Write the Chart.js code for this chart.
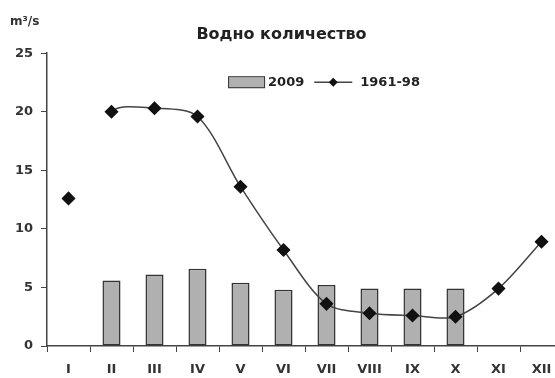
<!DOCTYPE html>
<html>
<head>
<meta charset="utf-8">
<script src="https://cdn.jsdelivr.net/npm/chart.js@4.4.1/dist/chart.umd.min.js"></script>
<style>
    html, body { margin: 0; padding: 0; background: #fff; overflow: hidden; }
</style>
</head>
<body>
<div id="chartBox"><canvas id="chart" width="580" height="378"></canvas></div>
<script>
(function () {

    'use strict';

    // monthly discharge, m3/s
    const months = ['I', 'II', 'III', 'IV', 'V', 'VI', 'VII', 'VIII', 'IX', 'X', 'XI', 'XII'];
    const flow2009 = [null, 5.6, 6.1, 6.6, 5.4, 4.8, 5.2, 4.9, 4.9, 4.9, null, null];
    const flowAvg = [12.6, 20.0, 20.3, 19.6, 13.6, 8.2, 3.6, 2.8, 2.6, 2.5, 4.9, 8.9];
    const yTicks = [0, 5, 10, 15, 20, 25];

    const chartTitle = 'Водно количество';
    const unitLabel = 'm³/s';
    const seriesNames = ['2009', '1961-98'];

    const font = '"DejaVu Sans", Verdana, sans-serif';
    const ink = '#333';
    const barFill = '#b0b0b0';
    const barEdge = '#333';
    const lineInk = '#444';

    window.addEventListener('load', init);

    function init() {
        Chart.defaults.font.family = font;
        Chart.defaults.font.weight = 'bold';
        Chart.defaults.color = ink;
        displayChart();
    }

    // legend is drawn by hand so both entries sit on one row inside the plot
    function drawLegend(chart) {
        let ctx = chart.ctx;
        let area = chart.chartArea;
        ctx.save();
        ctx.font = 'bold 13px ' + font;
        let w1 = ctx.measureText(seriesNames[0]).width;
        let w2 = ctx.measureText(seriesNames[1]).width;
        let total = 37 + 3 + w1 + 10 + 38 + 8 + w2;
        let x = (area.left + area.right) / 2 + 19 - total / 2;
        let y = area.top + 29;

        ctx.fillStyle = barFill;
        ctx.fillRect(x, y - 5, 37, 11);
        ctx.strokeStyle = barEdge;
        ctx.lineWidth = 1;
        ctx.strokeRect(x + 0.5, y - 5.5, 36, 11);
        x += 40;
        ctx.fillStyle = '#222';
        ctx.textBaseline = 'middle';
        ctx.fillText(seriesNames[0], x, y);
        x += w1 + 10;

        ctx.strokeStyle = lineInk;
        ctx.lineWidth = 1.5;
        ctx.beginPath();
        ctx.moveTo(x, y);
        ctx.lineTo(x + 38, y);
        ctx.stroke();
        ctx.fillStyle = '#111';
        ctx.beginPath();
        ctx.moveTo(x + 19, y - 4.5);
        ctx.lineTo(x + 23.5, y);
        ctx.lineTo(x + 19, y + 4.5);
        ctx.lineTo(x + 14.5, y);
        ctx.closePath();
        ctx.fill();
        x += 46;
        ctx.fillStyle = '#222';
        ctx.fillText(seriesNames[1], x, y);
        ctx.restore();
    }

    const extras = {
        id: 'extras',
        afterDraw(chart) {
            let ctx = chart.ctx;
            ctx.save();
            ctx.font = 'bold 12px ' + font;
            ctx.fillStyle = ink;
            ctx.textBaseline = 'middle';
            ctx.fillText(unitLabel, 10, chart.chartArea.top - 31);
            ctx.restore();
            drawLegend(chart);
        }
    };

    function displayChart() {

        let values = {
            labels: months,
            datasets: [{
                type: 'bar',
                label: seriesNames[0],
                data: flow2009,
                backgroundColor: barFill,
                borderColor: barEdge,
                borderWidth: 1.5,
                borderSkipped: false,
                categoryPercentage: 1,
                barPercentage: 0.42,
                order: 2
            }, {
                type: 'line',
                label: seriesNames[1],
                data: flowAvg,
                borderColor: lineInk,
                borderWidth: 1.5,
                tension: 0.3,
                pointStyle: 'rectRot',
                pointRadius: 6,
                pointBackgroundColor: '#111',
                pointBorderColor: '#111',
                segment: {
                    // January stands on its own
                    borderColor: ctx => ctx.p0DataIndex === 0 ? 'rgba(0,0,0,0)' : lineInk
                },
                order: 1
            }]
        };

        let config = {
            type: 'bar',
            data: values,
            plugins: [extras],
            options: {
                responsive: false,
                animation: false,
                devicePixelRatio: 1,
                layout: { padding: { left: 0, right: 17, top: 0, bottom: 0 } },
                plugins: {
                    title: {
                        display: true,
                        text: chartTitle,
                        color: '#222',
                        font: { size: 16, weight: 'bold' },
                        padding: { top: 25, bottom: 9 }
                    },
                    legend: { display: false },
                    tooltip: { enabled: false }
                },
                scales: {
                    x: {
                        offset: true,
                        grid: { offset: true, drawOnChartArea: false, tickLength: 6, color: '#444' },
                        border: { color: '#444', width: 1.5 },
                        ticks: { padding: 10, font: { size: 13, weight: 'bold' }, color: ink },
                        afterFit: scale => { scale.height = 32; }
                    },
                    y: {
                        min: 0,
                        max: 25,
                        afterBuildTicks: scale => { scale.ticks = yTicks.map(v => ({ value: v })); },
                        grid: { drawOnChartArea: false, tickLength: 6, color: '#444' },
                        border: { color: '#444', width: 1.5 },
                        ticks: { padding: 8, font: { size: 13, weight: 'bold' }, color: ink },
                        afterFit: scale => { scale.width = 47; }
                    }
                }
            }
        };

        new Chart(id('chart'), config);
    }

    function id(idName) {
        return document.getElementById(idName);
    }

})();
</script>
</body>
</html>
